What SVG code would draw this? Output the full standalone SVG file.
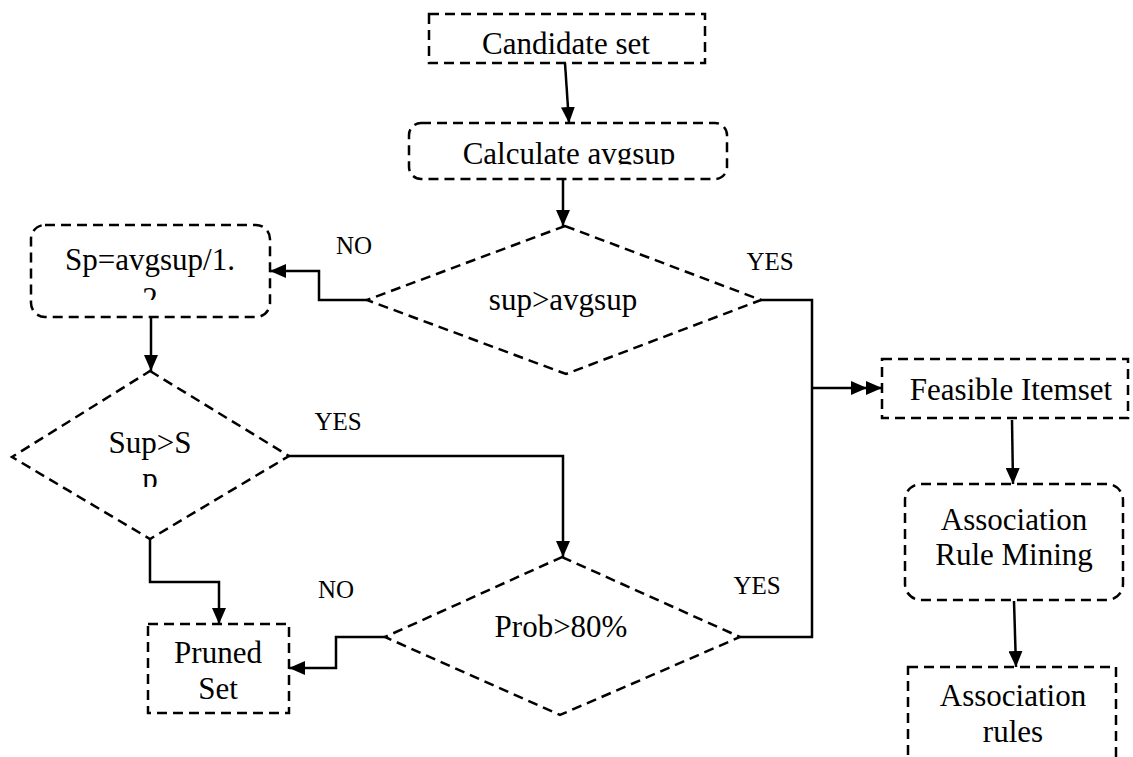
<svg xmlns="http://www.w3.org/2000/svg" width="1133" height="757" viewBox="0 0 1133 757">
<style>
.box{fill:none;stroke:#000;stroke-width:2.5;stroke-dasharray:10 6}
.t{font-family:"Liberation Serif","Times New Roman",serif;font-size:31px;fill:#000;text-anchor:middle}
.lbl{font-family:"Liberation Serif","Times New Roman",serif;font-size:25px;fill:#000;text-anchor:middle}
.c{fill:none;stroke:#000;stroke-width:2.5}
</style>
<defs>
<marker id="ah" markerUnits="userSpaceOnUse" markerWidth="16" markerHeight="14" refX="16" refY="7" orient="auto">
<path d="M0,0 L16,7 L0,14 Z" fill="#000"/>
</marker>
<marker id="ah2" markerUnits="userSpaceOnUse" markerWidth="31" markerHeight="14" refX="31" refY="7" orient="auto">
<path d="M0,0 L16,7 L0,14 Z M15,0 L31,7 L15,14 Z" fill="#000"/>
</marker>
<clipPath id="clipCalc"><rect x="409" y="123" width="318" height="41.5"/></clipPath>
<clipPath id="clipSp"><rect x="31" y="225" width="239" height="75"/></clipPath>
<clipPath id="clipSup"><rect x="12" y="371" width="277" height="116"/></clipPath>
</defs>

<g id="connectors">
<line class="c" x1="565" y1="63" x2="569" y2="123" marker-end="url(#ah)"/>
<line class="c" x1="563" y1="179" x2="563" y2="226" marker-end="url(#ah)"/>
<polyline class="c" points="367,300 319,300 319,271 270,271" marker-end="url(#ah)"/>
<line class="c" x1="151" y1="317" x2="151" y2="371" marker-end="url(#ah)"/>
<polyline class="c" points="289,456 563,456 563,557" marker-end="url(#ah)"/>
<polyline class="c" points="150,539 150,582 219,582 219,624" marker-end="url(#ah)"/>
<polyline class="c" points="385,637 336,637 336,668 289,668" marker-end="url(#ah)"/>
<polyline class="c" points="760,300 812,300 812,637 740,637"/>
<line class="c" x1="812" y1="388" x2="882" y2="388" marker-end="url(#ah2)"/>
<line class="c" x1="1012" y1="420" x2="1013" y2="484" marker-end="url(#ah)"/>
<line class="c" x1="1014" y1="601" x2="1016" y2="667" marker-end="url(#ah)"/>
<text class="lbl" x="354" y="254">NO</text>
<text class="lbl" x="770" y="270">YES</text>
<text class="lbl" x="338" y="430">YES</text>
<text class="lbl" x="336" y="598">NO</text>
<text class="lbl" x="757" y="594">YES</text>
</g>

<g id="candidate">
<rect class="box" x="429" y="14" width="276" height="49"/>
<text class="t" x="566" y="54">Candidate set</text>
</g>

<g id="calculate">
<rect class="box" x="409" y="123" width="318" height="56" rx="12"/>
<text class="t" x="569" y="164" clip-path="url(#clipCalc)">Calculate avgsup</text>
</g>

<g id="decision1">
<polygon class="box" points="565,226 761,300 566,374 367,300"/>
<text class="t" x="563" y="310">sup&gt;avgsup</text>
</g>

<g id="sp">
<rect class="box" x="31" y="225" width="239" height="92" rx="14"/>
<g clip-path="url(#clipSp)">
<text class="t" x="150" y="270">Sp=avgsup/1.</text>
<text class="t" x="150" y="309">2</text>
</g>
</g>

<g id="decision2">
<polygon class="box" points="150,371 289,456 150,539 12,457"/>
<g clip-path="url(#clipSup)">
<text class="t" x="150" y="453">Sup&gt;S</text>
<text class="t" x="150" y="489">p</text>
</g>
</g>

<g id="decision3">
<polygon class="box" points="562,557 740,637 560,715 385,637"/>
<text class="t" x="561" y="637">Prob&gt;80%</text>
</g>

<g id="pruned">
<rect class="box" x="148" y="624" width="141" height="89"/>
<text class="t" x="218" y="663">Pruned</text>
<text class="t" x="218" y="699">Set</text>
</g>

<g id="feasible">
<rect class="box" x="882" y="359" width="246" height="59"/>
<text class="t" x="1011" y="400">Feasible Itemset</text>
</g>

<g id="arm">
<rect class="box" x="905" y="484" width="218" height="116" rx="16"/>
<text class="t" x="1014" y="530">Association</text>
<text class="t" x="1014" y="565">Rule Mining</text>
</g>

<g id="rules">
<rect class="box" x="908" y="667" width="208" height="100"/>
<text class="t" x="1013" y="706">Association</text>
<text class="t" x="1013" y="742">rules</text>
</g>
</svg>
